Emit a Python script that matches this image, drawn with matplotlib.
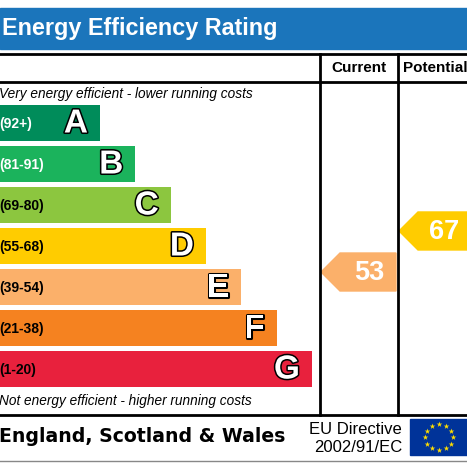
import numpy as np
import matplotlib.pyplot as plt
import matplotlib.patheffects as pe
from matplotlib.patches import Polygon, Rectangle

# band data
bands = ['A', 'B', 'C', 'D', 'E', 'F', 'G']
ranges = ['(92+)', '(81-91)', '(69-80)', '(55-68)', '(39-54)', '(21-38)', '(1-20)']
colours = ['#008c5a', '#1bb35c', '#8cc63f', '#ffcc00', '#fbb06a', '#f58220', '#e8213d']
range_text_colours = ['white', 'white', 'black', 'black', 'black', 'black', 'black']

# ratings
current_score = 53
potential_score = 67
current_colour = '#fbb06a'
potential_colour = '#ffcc00'

plt.rcParams['font.family'] = ['Liberation Sans', 'DejaVu Sans']

fig = plt.figure(figsize=(4.67, 4.67), dpi=100)
ax = fig.add_axes([0, 0, 1, 1])
ax.set_xlim(0, 467)
ax.set_ylim(467, 0)
ax.axis('off')

# title banner
ax.add_patch(Rectangle((0, 8), 467, 41, color='#1b75bb'))
ax.text(2, 28.5, 'Energy Efficiency Rating', color='white', fontsize=16.8,
        fontweight='bold', va='center', ha='left')

# grid lines
for y in (53.5, 82, 415):
    ax.plot([0, 467], [y, y], color='black', lw=2)
for x in (320, 398):
    ax.plot([x, x], [53.5, 415], color='black', lw=2)
ax.plot([0, 467], [461, 461], color='#888888', lw=1)

ax.text(359, 68, 'Current', fontsize=11, fontweight='bold', ha='center', va='center')
ax.text(403, 68, 'Potential', fontsize=11, fontweight='bold', ha='left', va='center')

ax.text(-1, 94, 'Very energy efficient - lower running costs', fontsize=9.8,
        style='italic', ha='left', va='center')
ax.text(-1, 401, 'Not energy efficient - higher running costs', fontsize=9.8,
        style='italic', ha='left', va='center')

# bands
idx = np.arange(len(bands))
centres = 123 + idx * 41
rights = 100 + idx * 35.33
ax.barh(centres, rights, height=36, left=0, color=colours)
outline = [pe.withStroke(linewidth=2.2, foreground='black')]
for c, r, b, rg, tc in zip(centres, rights, bands, ranges, range_text_colours):
    ax.text(-1, c + 1, rg, color=tc, fontsize=10, fontweight='bold', ha='left', va='center')
    ax.text(r - 12, c + 1, b, color='white', fontsize=24, fontweight='bold',
            ha='right', va='center', path_effects=outline)


def score_y(score):
    return 272 - (score - 53) * 2.93


def arrow(score, tip_x, end_x, colour):
    yc = score_y(score)
    h = 19
    pts = [(tip_x, yc), (tip_x + h, yc - h), (end_x, yc - h), (end_x, yc + h), (tip_x + h, yc + h)]
    ax.add_patch(Polygon(pts, closed=True, color=colour))
    ax.text(tip_x + h + (end_x - tip_x - h) / 2 + 1, yc + 1, str(score), color='white',
            fontsize=19.5, fontweight='bold', ha='center', va='center')


arrow(current_score, 321, 396, current_colour)
arrow(potential_score, 399, 468, potential_colour)

# footer
ax.text(-1, 437, 'England, Scotland & Wales', family='DejaVu Sans', fontsize=13.6,
        fontweight='bold', ha='left', va='center')
ax.text(402, 429, 'EU Directive', fontsize=12, ha='right', va='center')
ax.text(402, 448, '2002/91/EC', fontsize=12, ha='right', va='center')

# EU flag
ax.add_patch(Rectangle((410, 419), 60, 36, color='#003399'))
ang = np.linspace(0, 2 * np.pi, 13)[:-1]
ax.scatter(439 + 14 * np.cos(ang), 437 + 13 * np.sin(ang), marker='*', s=18,
           color='#ffdd00', linewidths=0, zorder=5)

fig.savefig('out.png', dpi=100)
